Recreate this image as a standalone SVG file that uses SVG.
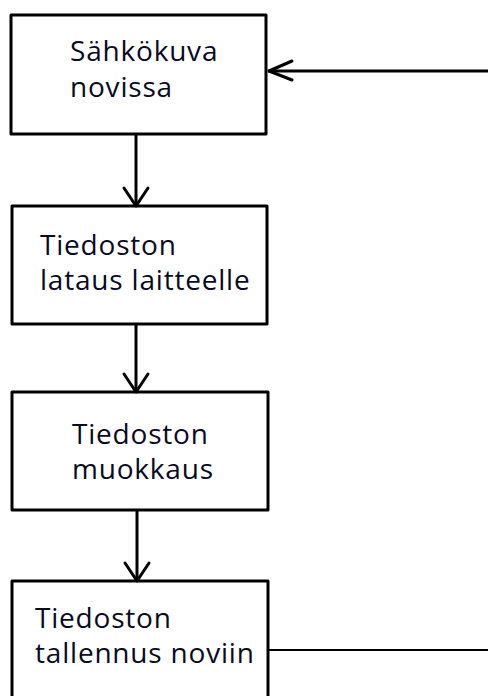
<svg xmlns="http://www.w3.org/2000/svg" width="488" height="696" viewBox="0 0 488 696">
<style>
.box{fill:#fff;stroke:#000;stroke-width:3;stroke-linejoin:round}
.lbl{font-family:"Open Sans","DejaVu Sans",sans-serif;font-size:28px;letter-spacing:0.8px;fill:#0a0a1e}
.con{fill:none;stroke:#000;stroke-width:3}
.thin{fill:none;stroke:#000;stroke-width:2.2}
.head{fill:none;stroke:#000;stroke-width:3;stroke-linecap:round;stroke-linejoin:round}
</style>
<rect width="488" height="696" fill="#fff"/>
<g id="node1">
<rect class="box" x="11" y="15" width="255" height="119"/>
<text class="lbl" x="70" y="61">Sähkökuva</text>
<text class="lbl" x="70" y="97">novissa</text>
</g>
<g id="node2">
<rect class="box" x="12" y="206" width="255" height="118"/>
<text class="lbl" x="40" y="255">Tiedoston</text>
<text class="lbl" x="40" y="290">lataus laitteelle</text>
</g>
<g id="node3">
<rect class="box" x="12" y="392" width="256" height="118"/>
<text class="lbl" x="72" y="444">Tiedoston</text>
<text class="lbl" x="72" y="479">muokkaus</text>
</g>
<g id="node4">
<rect class="box" x="12" y="581" width="256" height="130"/>
<text class="lbl" x="35" y="628">Tiedoston</text>
<text class="lbl" x="35" y="663">tallennus noviin</text>
</g>
<g id="connectors">
<line class="con" x1="136" y1="134" x2="136" y2="205"/>
<polyline class="head" points="124,188 136,206 148,188"/>
<line class="con" x1="136" y1="324" x2="136" y2="391"/>
<polyline class="head" points="124,374 136,392 148,374"/>
<line class="con" x1="137" y1="510" x2="137" y2="580"/>
<polyline class="head" points="125,563 137,581 149,563"/>
<line class="thin" x1="268" y1="650" x2="488" y2="650"/>
<line class="con" x1="268" y1="71" x2="488" y2="71"/>
<polyline class="head" points="292,61 269,71 292,80"/>
</g>
</svg>
